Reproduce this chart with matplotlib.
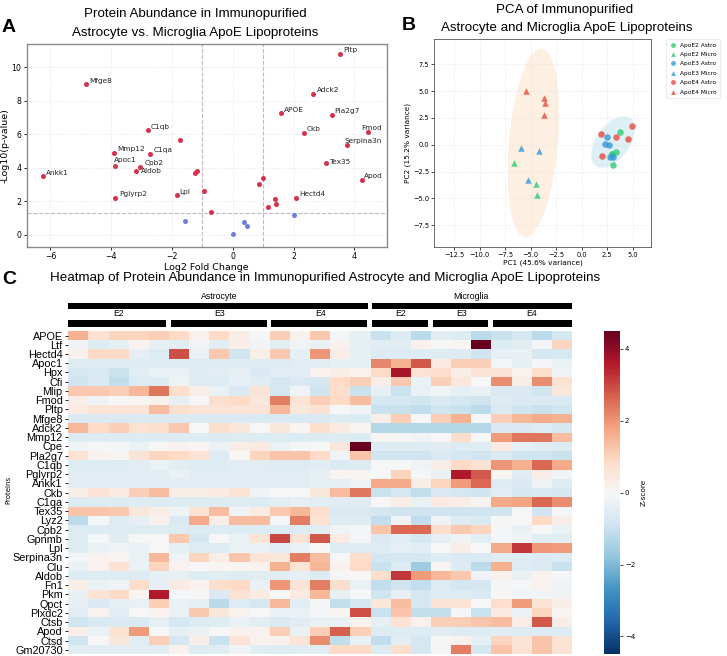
import numpy as np
import matplotlib
matplotlib.use('Agg')
import matplotlib.pyplot as plt
from matplotlib.patches import Ellipse, Rectangle
from matplotlib.lines import Line2D
from matplotlib.colors import Normalize

# ---------------- DATA ----------------
# Volcano: labelled proteins
vol_labels = ['Pltp', 'Mfge8', 'Adck2', 'APOE', 'Pla2g7', 'C1qb', 'Ckb', 'Fmod', 'Serpina3n',
              'Mmp12', 'C1qa', 'Tex35', 'Apoc1', 'Cpb2', 'Aldob', 'Ankk1', 'Apod', 'Pglyrp2',
              'Lpl', 'Hectd4']
vol_lab_fc = [3.52, -4.82, 2.63, 1.58, 3.25, -2.80, 2.35, 4.43, 3.74, -3.92, -2.71, 3.05,
              -3.89, -3.05, -3.18, -6.26, 4.26, -3.86, -1.84, 2.07]
vol_lab_p = [10.80, 9.00, 8.39, 7.30, 7.16, 6.26, 6.06, 6.14, 5.35, 4.91, 4.83, 4.29,
             4.10, 4.08, 3.82, 3.52, 3.26, 2.23, 2.41, 2.23]
# Volcano: other significant (unlabelled) proteins
vol_sig_fc = [-1.75, -1.23, -1.19, 0.98, 0.87, -0.94, 1.37, 1.41, 1.16, -0.72]
vol_sig_p = [5.65, 3.72, 3.82, 3.42, 3.04, 2.60, 2.15, 1.83, 1.67, 1.35]
# Volcano: non-significant proteins
vol_ns_fc = [2.01, -1.58, 0.37, 0.48, 0.01]
vol_ns_p = [1.21, 0.85, 0.80, 0.56, 0.04]

# PCA scores
pca_groups = ['ApoE2 Astro', 'ApoE2 Micro', 'ApoE3 Astro', 'ApoE3 Micro', 'ApoE4 Astro', 'ApoE4 Micro']
pca_pc1 = {
    'ApoE2 Astro': [3.76, 2.98, 3.34, 3.11, 3.00],
    'ApoE2 Micro': [-6.61, -4.48, -4.42],
    'ApoE3 Astro': [2.52, 2.29, 2.68, 2.78, 3.11],
    'ApoE3 Micro': [-5.95, -4.15, -5.23],
    'ApoE4 Astro': [1.86, 3.40, 4.55, 4.94, 2.00],
    'ApoE4 Micro': [-5.50, -3.66, -3.63, -3.70],
}
pca_pc2 = {
    'ApoE2 Astro': [1.21, -0.84, -0.72, -1.93, -0.90],
    'ApoE2 Micro': [-1.71, -3.64, -4.70],
    'ApoE3 Astro': [0.72, 0.06, -0.03, -1.12, -1.12],
    'ApoE3 Micro': [-0.28, -0.59, -3.30],
    'ApoE4 Astro': [1.00, 0.68, 0.56, 1.74, -1.03],
    'ApoE4 Micro': [5.01, 4.39, 3.89, 2.77],
}

# Heatmap
proteins = ['APOE', 'Ltf', 'Hectd4', 'Apoc1', 'Hpx', 'Cfi', 'Mlip', 'Fmod', 'Pltp', 'Mfge8',
            'Adck2', 'Mmp12', 'Cpe', 'Pla2g7', 'C1qb', 'Pglyrp2', 'Ankk1', 'Ckb', 'C1qa',
            'Tex35', 'Lyz2', 'Cpb2', 'Gpnmb', 'Lpl', 'Serpina3n', 'Clu', 'Aldob', 'Fn1',
            'Pkm', 'Qpct', 'Plxdc2', 'Ctsb', 'Apod', 'Ctsd', 'Gm20730']
cell_types = ['Astrocyte', 'Microglia']
cell_counts = [15, 10]
genotypes = ['E2', 'E3', 'E4', 'E2', 'E3', 'E4']
genotype_counts = [5, 5, 5, 3, 3, 4]
zscores = [
    [1.6, 0.7, 1.0, 1.0, 1.1, 0.9, 0.2, 0.9, 0.3, -0.1, 1.1, 0.2, 1.2, -0.1, -0.4, -1.0, -0.6, -1.2, -0.5, -0.6, -1.2, -1.0, -0.8, -1.2, -0.8],
    [-0.2, -0.6, -0.4, 0.2, -0.4, -0.5, -0.2, -0.5, 0.3, -0.2, -0.5, -0.2, -0.3, 0.2, -0.4, -0.5, -0.5, 0.2, 0.0, 0.1, 4.5, -0.6, -0.5, -0.1, 1.0],
    [0.2, 0.9, 0.9, -0.4, -0.6, 2.9, -0.3, 1.2, -0.9, 0.3, 1.2, -0.4, 2.0, 0.3, -0.4, -0.6, -0.6, -0.6, -0.6, -0.6, -0.9, -0.4, -0.3, -0.8, -0.8],
    [-0.6, -0.6, -0.6, -0.6, -0.6, -0.6, -0.6, -0.6, -0.6, -0.6, -0.6, -0.5, -0.5, -0.4, -0.4, 2.2, 1.6, 2.8, 0.4, 1.1, 1.1, -0.1, -0.4, -0.1, -0.3],
    [-0.8, -0.7, -1.0, -0.5, -0.3, -0.3, -0.6, -0.5, -0.4, -0.7, -0.5, -0.5, 0.2, 0.3, 0.2, 0.9, 3.7, 0.7, 0.8, 0.3, 0.6, 0.7, 0.2, 0.8, -0.2],
    [-0.9, -0.7, -1.1, -0.6, -0.6, -0.2, -0.6, -0.6, -0.4, -0.5, -0.8, -0.7, -0.8, 0.9, 1.1, 0.3, 1.2, -0.3, 1.1, 0.5, 0.0, 2.1, 0.3, 2.1, 0.7],
    [1.2, 1.2, 1.1, 1.5, 2.4, 0.8, 0.3, -0.3, -0.7, 0.6, -0.8, -0.2, -0.9, 0.8, -1.0, -0.4, -1.0, -0.3, -0.2, -0.4, -0.3, -0.7, -0.7, -0.9, 0.5],
    [0.3, -0.2, 0.0, 0.1, 0.2, -0.4, 0.0, 0.8, 0.9, 0.5, 2.3, 0.6, 1.1, 0.9, 1.4, -0.8, -0.8, -0.9, -0.7, -0.8, -0.9, -0.6, -0.7, -0.7, -0.7],
    [0.4, 0.6, 0.6, 0.6, 1.4, 0.8, 0.6, 0.6, 0.6, 0.6, 1.5, 0.5, 0.7, 0.0, -0.2, -1.0, -1.0, -1.1, -0.9, -1.0, -1.2, -0.7, -0.9, -1.0, -0.9],
    [-0.7, -0.7, -0.7, -0.7, -0.7, -0.7, -0.7, -0.7, -0.7, -0.7, -0.7, -0.7, -0.7, -0.6, -0.6, 0.3, 1.1, 0.0, 1.1, 1.6, 0.0, 1.1, 1.5, 1.7, 1.6],
    [1.5, 0.9, 1.1, 0.7, 0.8, 1.2, 0.0, 0.8, 0.5, 0.0, 0.5, 0.1, 0.8, 0.4, 0.1, -1.3, -1.3, -1.3, -1.3, -1.3, -1.3, -0.7, -0.7, -0.6, -0.8],
    [-0.6, -0.6, -0.6, -0.6, -0.6, -0.6, -0.6, -0.6, -0.6, -0.6, -0.6, -0.6, -0.6, -0.6, -0.6, 0.05, 0.05, -0.2, 0.0, 0.8, 0.0, 1.9, 2.4, 2.4, 1.4],
    [-0.2, 0.0, -0.1, -0.3, 0.0, 0.2, 0.1, -0.3, 0.3, 0.4, -0.3, -0.1, 0.0, 0.5, 4.5, -0.6, -0.6, -0.6, -0.5, -0.6, -0.6, 0.4, -0.4, -0.5, -0.6],
    [0.7, 0.2, 0.1, 0.6, 1.0, 0.9, 0.6, -0.6, 0.1, 1.0, 1.3, 1.3, 0.9, -0.2, 1.3, -0.9, -0.9, -0.9, -0.7, -0.8, -0.9, -0.7, -0.9, -0.9, -1.0],
    [-0.6, -0.6, -0.6, -0.5, -0.3, -0.5, -0.6, -0.6, -0.5, -0.5, -0.6, -0.6, -0.5, -0.7, -0.6, 0.0, 0.0, -0.2, 0.3, 0.9, 0.7, 2.0, 1.6, 2.6, 1.7],
    [-0.5, -0.5, -0.5, -0.5, -0.5, -0.3, -0.5, -0.5, -0.5, -0.5, -0.5, -0.5, -0.4, 0.1, 0.1, 0.0, 1.0, -0.1, -0.3, 3.6, 2.8, 0.1, -0.5, 0.3, -0.2],
    [-0.5, -0.5, -0.5, -0.5, -0.5, -0.5, -0.5, -0.5, -0.5, -0.5, -0.5, -0.5, -0.4, -0.4, -0.2, 1.7, 1.7, 0.3, 1.0, 1.9, 2.6, -0.6, -0.7, -0.2, -0.6],
    [0.3, 0.6, 0.4, 1.1, 1.4, 0.3, 0.3, 0.4, 0.7, -0.2, 0.0, 0.0, 0.5, 1.4, 2.4, -1.0, -0.8, -1.1, -0.7, -0.8, -0.9, -0.5, -0.8, -0.7, -0.8],
    [-0.6, -0.6, -0.6, -0.6, -0.6, -0.6, -0.6, -0.6, -0.6, -0.6, -0.5, -0.4, -0.5, -0.5, -0.5, 0.0, 0.3, -0.3, 0.4, 0.3, 0.1, 1.7, 1.8, 2.6, 2.1],
    [1.3, 1.3, 1.2, 0.5, 0.3, -0.2, 0.7, 1.4, -0.2, 0.4, 1.2, 1.5, 0.8, -0.7, -0.7, -0.8, -0.9, -0.9, -0.9, -0.9, -0.9, -0.9, 0.0, -0.9, -0.1],
    [-1.2, -0.1, -0.6, -0.4, 0.2, -0.7, 1.7, 0.3, 1.4, 1.4, -0.1, 2.3, 0.7, -0.6, -0.6, -1.1, -0.2, -1.1, -0.2, -0.6, -0.7, 0.0, 0.0, 0.9, 0.3],
    [-0.6, -0.6, -0.6, -0.6, -0.6, -0.6, -0.6, -0.6, -0.6, -0.6, -0.6, -0.6, -0.5, -0.2, -0.1, 1.3, 2.6, 2.6, 0.8, 1.2, 1.0, -0.1, -0.3, 0.0, -0.3],
    [-0.6, -0.1, -0.5, 0.0, 0.0, 1.2, -0.8, 0.0, -0.3, 0.6, 3.0, 0.7, 2.8, 0.4, -0.1, -0.7, -0.5, -0.8, -0.4, -0.2, -0.5, -0.1, -0.2, -0.5, -0.5],
    [-0.6, -0.3, -0.2, -0.3, 0.0, -0.4, -0.6, -0.6, -0.3, -0.3, -0.5, -0.3, 0.0, -0.6, -0.6, -0.6, -0.4, -0.5, 0.0, 0.3, 0.0, 1.7, 3.2, 2.0, 1.9],
    [-0.1, 0.2, 0.1, -0.3, 1.5, -0.2, 1.0, 0.3, 1.3, 0.6, 0.5, 2.3, 1.4, 0.0, 0.8, -0.8, -0.8, -0.8, -0.6, -0.7, -0.7, -0.5, -0.6, -0.6, -0.6],
    [-0.3, 0.2, 0.7, -0.3, 1.0, 0.2, 0.0, 0.1, 0.1, 0.2, 1.6, 0.6, 1.5, 0.2, 0.9, -1.0, -0.6, -1.6, 0.1, -0.6, -1.2, 1.6, -0.6, -0.7, -1.0],
    [-0.6, -0.6, -0.6, -0.6, -0.4, -0.4, -0.6, -0.5, -0.6, -0.5, -0.5, -0.4, -0.6, -0.1, 0.0, 0.8, 3.2, 1.9, 1.5, 1.2, -0.2, 0.2, -0.3, 0.2, -0.1],
    [0.3, -0.3, -0.2, 0.8, -0.4, 0.4, 0.2, 0.8, 0.9, -0.3, 2.0, 0.6, 2.3, 0.8, -0.3, -1.1, -0.9, -1.1, -0.6, -0.8, -0.8, -0.1, -0.1, 0.2, -0.2],
    [-0.3, 0.6, 0.9, 0.1, 3.6, -0.1, 0.0, -0.7, 0.7, 0.4, 0.0, 0.4, 1.5, -0.4, 0.0, -0.9, -0.4, -0.8, -0.6, -0.6, -0.7, 0.0, -0.2, -0.2, -0.2],
    [-0.4, -0.7, -0.4, -0.3, 1.1, -0.3, -0.4, -1.2, -0.6, -0.8, 1.5, -0.5, -0.1, -1.1, -0.8, 0.5, 1.4, -0.8, 0.7, 0.7, 0.0, 0.8, 1.9, 0.6, 0.3],
    [-0.5, 0.2, -0.5, 0.0, 0.2, -0.3, 1.2, 0.5, 0.2, 0.0, -0.3, -0.3, -0.1, 0.1, 2.9, -1.0, 1.3, -1.1, -1.1, -0.1, -1.0, 0.4, -0.3, 1.0, 0.1],
    [-0.9, -0.7, -0.7, -0.7, -0.4, -0.8, -0.6, -0.6, -0.3, -0.5, -0.7, -0.5, -0.3, -0.3, 0.2, -0.4, 0.7, 0.2, 1.1, 1.1, 1.3, 1.4, 0.3, 2.8, 0.3],
    [0.3, -0.3, 0.7, 1.9, 0.0, -0.4, -0.3, 0.0, 0.2, 0.2, 1.1, -0.3, 1.1, 2.7, 1.1, -0.6, -0.6, -0.6, -0.5, -0.6, -0.6, -0.5, -0.6, -0.6, -0.6],
    [-0.9, 0.0, 0.5, -0.5, 1.1, -0.8, 0.3, -1.0, 0.6, 0.2, 0.2, 0.6, 2.1, -1.1, -0.3, -1.1, -0.5, -0.8, 0.0, 0.2, -0.4, 1.0, 0.6, 1.3, 0.7],
    [-0.5, -0.5, -0.5, -0.5, -0.5, 0.2, -0.6, -0.5, -0.2, -0.5, -0.6, -0.5, -0.5, 0.9, 0.9, -0.6, 0.8, -0.8, -0.1, 2.3, -0.8, 1.3, 0.7, 1.3, 0.6],
]

# ---------------- STYLE / LAYOUT ----------------
W, H = 727, 656
fig = plt.figure(figsize=(W / 100, H / 100), dpi=100)
TITLE = ['Liberation Sans', 'DejaVu Sans']
ARIAL = ['Liberation Sans', 'DejaVu Sans']
TSIZE = 9.6


def ax_px(l, t, r, b):
    return fig.add_axes([l / W, 1 - b / H, (r - l) / W, (b - t) / H])


def ftext(x, y, s, **kw):
    fig.text(x / W, 1 - y / H, s, **kw)


# ---------------- PANEL A: volcano ----------------
axA = ax_px(26.7, 44.3, 386.7, 246.7)
red = '#d7304e'
blue = '#6f7fe0'
axA.scatter(vol_ns_fc, vol_ns_p, s=13, c=blue, zorder=3, linewidths=0)
axA.scatter(vol_sig_fc, vol_sig_p, s=13, c=red, zorder=3, linewidths=0)
axA.scatter(vol_lab_fc, vol_lab_p, s=13, c=red, zorder=3, linewidths=0)
offsets = {'Pltp': (3, 4), 'Mfge8': (3, 3), 'Adck2': (4, 4), 'APOE': (3, 3), 'Pla2g7': (3, 4),
           'C1qb': (3, 3), 'Ckb': (2, 4), 'Fmod': (-6, 4), 'Serpina3n': (-2, 4), 'Mmp12': (4, 4),
           'C1qa': (3, 4), 'Tex35': (3, 1), 'Apoc1': (-1, 6), 'Cpb2': (5, 4), 'Aldob': (5, 0),
           'Ankk1': (3, 3), 'Apod': (2, 4), 'Pglyrp2': (4, 4), 'Lpl': (2, 3), 'Hectd4': (3, 4)}
for name, xv, yv in zip(vol_labels, vol_lab_fc, vol_lab_p):
    dx, dy = offsets[name]
    kw = {}
    if name in ('Apoc1', 'Cpb2'):
        kw['arrowprops'] = dict(arrowstyle='-', color='#aaaaaa', lw=0.5, shrinkA=0, shrinkB=1)
    axA.annotate(name, (xv, yv), xytext=(dx, dy), textcoords='offset pixels',
                 ha='left', va='center', fontsize=5.3, color='#222222', zorder=4, **kw)
for xv in (-1, 1):
    axA.axvline(xv, color='#bbbbbb', ls='--', lw=0.8, zorder=1)
axA.axhline(-np.log10(0.05), color='#bbbbbb', ls='--', lw=0.8, zorder=1)
axA.set_xlim(-6.78, 5.06)
axA.set_ylim(-0.70, 11.37)
axA.set_xticks([-6, -4, -2, 0, 2, 4])
axA.set_yticks([0, 2, 4, 6, 8, 10])
axA.grid(True, ls=':', color='#dddddd', lw=0.6, zorder=0)
axA.tick_params(labelsize=5.6, length=2.5, width=0.6, pad=1.5)
for sp in axA.spines.values():
    sp.set_color('#8a8a8a')
    sp.set_linewidth(1.0)
axA.set_xlabel('Log2 Fold Change', fontsize=6.8, labelpad=1.5)
axA.set_ylabel('-Log10(p-value)', fontsize=6.8, labelpad=1)

ftext(195, 14, 'Protein Abundance in Immunopurified', family=TITLE, fontsize=TSIZE,
      ha='center', va='center')
ftext(195, 33, 'Astrocyte vs. Microglia ApoE Lipoproteins', family=TITLE, fontsize=TSIZE,
      ha='center', va='center')
ftext(2, 27, 'A', family=ARIAL, fontsize=14, fontweight='bold', ha='left', va='center')

# ---------------- PANEL B: PCA ----------------
axB = ax_px(434.3, 39, 651, 246.7)
axB.add_patch(Ellipse((-4.74, 0.17), 4.8, 17.7, angle=-5.3, facecolor='#fdf0e2',
                      edgecolor='none', zorder=0))
axB.add_patch(Ellipse((3.07, 0.25), 5.6, 3.2, angle=52, facecolor='#def0f5',
                      edgecolor='none', zorder=0))
gcol = {'ApoE2': '#2ecc71', 'ApoE3': '#3498db', 'ApoE4': '#e74c3c'}
handles = []
for g in pca_groups:
    geno, cell = g.split()
    mk = 'o' if cell == 'Astro' else '^'
    axB.scatter(pca_pc1[g], pca_pc2[g], s=22, marker=mk, c=gcol[geno], alpha=0.8,
                linewidths=0, zorder=3)
    handles.append(Line2D([], [], marker=mk, ls='none', color=gcol[geno], alpha=0.8,
                          markersize=3.5, markeredgewidth=0, label=g))
axB.set_xlim(-14.46, 6.8)
axB.set_ylim(-9.52, 9.87)
axB.set_xticks([-12.5, -10.0, -7.5, -5.0, -2.5, 0.0, 2.5, 5.0])
axB.set_yticks([-7.5, -5.0, -2.5, 0.0, 2.5, 5.0, 7.5])
axB.grid(True, ls=':', color='#e0e0e0', lw=0.6, zorder=0)
axB.tick_params(labelsize=4.8, length=2, width=0.5, pad=1.5)
for sp in axB.spines.values():
    sp.set_color('#555555')
    sp.set_linewidth(0.6)
axB.set_xlabel('PC1 (45.6% variance)', fontsize=5.3, labelpad=1.5)
axB.set_ylabel('PC2 (15.2% variance)', fontsize=5.3, labelpad=1.5)
leg = axB.legend(handles=handles, loc='upper left', bbox_to_anchor=(1.07, 1.0),
                 borderaxespad=0, fontsize=4.2, frameon=True, handletextpad=0.6,
                 labelspacing=0.75, borderpad=0.6, handlelength=1.2)
leg.get_frame().set_edgecolor('#dddddd')
leg.get_frame().set_linewidth(0.5)

ftext(565, 10, 'PCA of Immunopurified', family=TITLE, fontsize=TSIZE, ha='center', va='center')
ftext(567, 28, 'Astrocyte and Microglia ApoE Lipoproteins', family=TITLE, fontsize=TSIZE,
      ha='center', va='center')
ftext(402, 26, 'B', family=ARIAL, fontsize=14, fontweight='bold', ha='left', va='center')

# ---------------- PANEL C: heatmap ----------------
Z = np.array(zscores)
nrow, ncol = Z.shape
hm_l, hm_t, hm_r, hm_b = 68.3, 330.9, 572.0, 654.4
axC = ax_px(hm_l, hm_t, hm_r, hm_b)
norm = Normalize(vmin=-4.5, vmax=4.5)
mesh = axC.pcolormesh(np.arange(ncol + 1), np.arange(nrow + 1), Z, cmap='RdBu_r', norm=norm)
axC.set_xlim(0, ncol)
axC.set_ylim(nrow, 0)
axC.set_xticks([])
axC.set_yticks(np.arange(nrow) + 0.5)
axC.set_yticklabels(proteins, family=ARIAL, fontsize=7.8)
axC.tick_params(axis='y', length=2.5, width=0.6, pad=1.5)
for sp in axC.spines.values():
    sp.set_visible(False)

cax = ax_px(604, hm_t, 620, hm_b)
cb = fig.colorbar(mesh, cax=cax)
cb.set_ticks([-4, -2, 0, 2, 4])
cb.ax.tick_params(labelsize=5, length=2, width=0.5, pad=1.5)
cb.outline.set_visible(False)
cb.set_label('Z-score', fontsize=5.3, labelpad=4)

ftext(8, 490, 'Proteins', fontsize=5, rotation=90, ha='center', va='center')

# header bars
axH = ax_px(hm_l, 285, hm_r, hm_t)
axH.set_xlim(0, ncol)
axH.set_ylim(hm_t, 285)
axH.axis('off')
start = 0
for name, n in zip(cell_types, cell_counts):
    x0 = start + (0.0 if start == 0 else 0.05)
    x1 = start + n - (0.13 if start + n < ncol else 0.0)
    axH.add_patch(Rectangle((x0, 302.5), x1 - x0, 6, facecolor='black', edgecolor='none'))
    axH.text(start + n / 2, 296.5, name, family=TITLE, fontsize=6.3, ha='center', va='center')
    start += n
start = 0
for name, n in zip(genotypes, genotype_counts):
    x0 = start + (0.0 if start == 0 else 0.08)
    x1 = start + n - (0.15 if start + n < ncol else 0.0)
    axH.add_patch(Rectangle((x0, 320.3), x1 - x0, 7, facecolor='black', edgecolor='none'))
    axH.text(start + n / 2, 314, name, family=TITLE, fontsize=6.3, ha='center', va='center')
    start += n

ftext(325, 278, 'Heatmap of Protein Abundance in Immunopurified Astrocyte and Microglia ApoE Lipoproteins',
      family=TITLE, fontsize=TSIZE, ha='center', va='center')
ftext(2, 280, 'C', family=ARIAL, fontsize=14, fontweight='bold', ha='left', va='center')

fig.savefig('out.png', dpi=100)
